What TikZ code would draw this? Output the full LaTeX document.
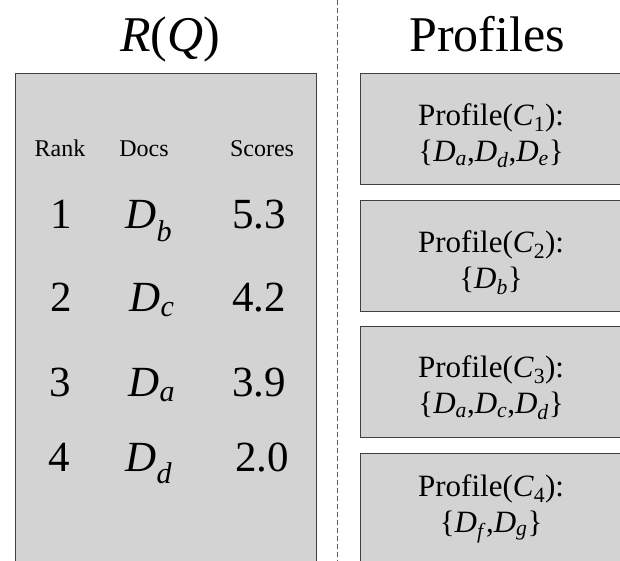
\documentclass[tikz,border=0pt]{standalone}
\usepackage{fontspec}
\setmainfont{Liberation Serif}

\definecolor{boxfill}{HTML}{D3D3D3}
\definecolor{boxline}{HTML}{404040}
\definecolor{divline}{HTML}{606060}

% italic document name with an italic subscript, and a cluster name
\newcommand\Dsub[1]{\textit{D}\textsubscript{\textit{#1}}}
\newcommand\Csub[1]{\textit{C}\textsubscript{#1}}

\tikzset{
  panel/.style={draw=boxline, fill=boxfill, line width=1.2pt,
                inner sep=0pt, anchor=north west},
  profilebox/.style={panel, minimum width=265pt, minimum height=111pt},
  heading/.style={anchor=base, font=\fontsize{50}{58}\selectfont},
  colhead/.style={anchor=base, font=\fontsize{24}{28}\selectfont},
  cell/.style={anchor=base, font=\fontsize{43}{50}\selectfont},
  doccell/.style={anchor=base west, font=\fontsize{43}{50}\selectfont},
  profiletext/.style={align=center, font=\fontsize{31}{35.5}\selectfont},
  divider/.style={draw=divline, line width=0.9pt, dash pattern=on 5pt off 3pt}
}

\begin{document}
\begin{tikzpicture}[x=1pt, y=-1pt]
\useasboundingbox (0,0) rectangle (620,561);
\clip (0,0) rectangle (620,561);

% left panel: ranked result list
\node[panel, minimum width=301pt, minimum height=500pt] (ranking) at (15,73) {};

% column separator
\coordinate (divtop) at (337,0);
\coordinate (divbot) at (337,561);
\draw[divider] (divtop) -- (divbot);

% titles
\node[heading] (rqtitle) at (170,52) {\textit{R}(\textit{Q})};
\node[heading] (proftitle) at (487,52) {Profiles};

% column headings
\node[colhead] (hrank) at (60,157) {Rank};
\node[colhead] (hdocs) at (144,157) {Docs};
\node[colhead] (hscores) at (262,157) {Scores};

% ranked rows
\node[cell] (r1) at (61,229) {1};
\node[doccell] (d1) at (122,229) {\Dsub{b}};
\node[cell] (s1) at (259,229) {5.3};

\node[cell] (r2) at (61,311) {2};
\node[doccell] (d2) at (126,311) {\Dsub{c}};
\node[cell] (s2) at (259,311) {4.2};

\node[cell] (r3) at (60,396) {3};
\node[doccell] (d3) at (125,396) {\Dsub{a}};
\node[cell] (s3) at (259,396) {3.9};

\node[cell] (r4) at (59,471) {4};
\node[doccell] (d4) at (122,471) {\Dsub{d}};
\node[cell] (s4) at (262,471) {2.0};

% cluster profiles
\node[profilebox] (p1) at (360,73) {};
\node[profilebox] (p2) at (360,200) {};
\node[profilebox] (p3) at (360,326) {};
\node[profilebox] (p4) at (360,453) {};

\node[profiletext] (p1t) at ([xshift=-2pt, yshift=-7pt]p1.center) {Profile(\Csub{1}):\\\{\Dsub{a},\Dsub{d},\Dsub{e}\}};
\node[profiletext] (p2t) at ([xshift=-2pt, yshift=-7pt]p2.center) {Profile(\Csub{2}):\\\{\Dsub{b}\}};
\node[profiletext] (p3t) at ([xshift=-2pt, yshift=-6pt]p3.center) {Profile(\Csub{3}):\\\{\Dsub{a},\Dsub{c},\Dsub{d}\}};
\node[profiletext] (p4t) at ([xshift=-2pt, yshift=0pt]p4.center) {Profile(\Csub{4}):\\\{\Dsub{f},\Dsub{g}\}};
\end{tikzpicture}
\end{document}
